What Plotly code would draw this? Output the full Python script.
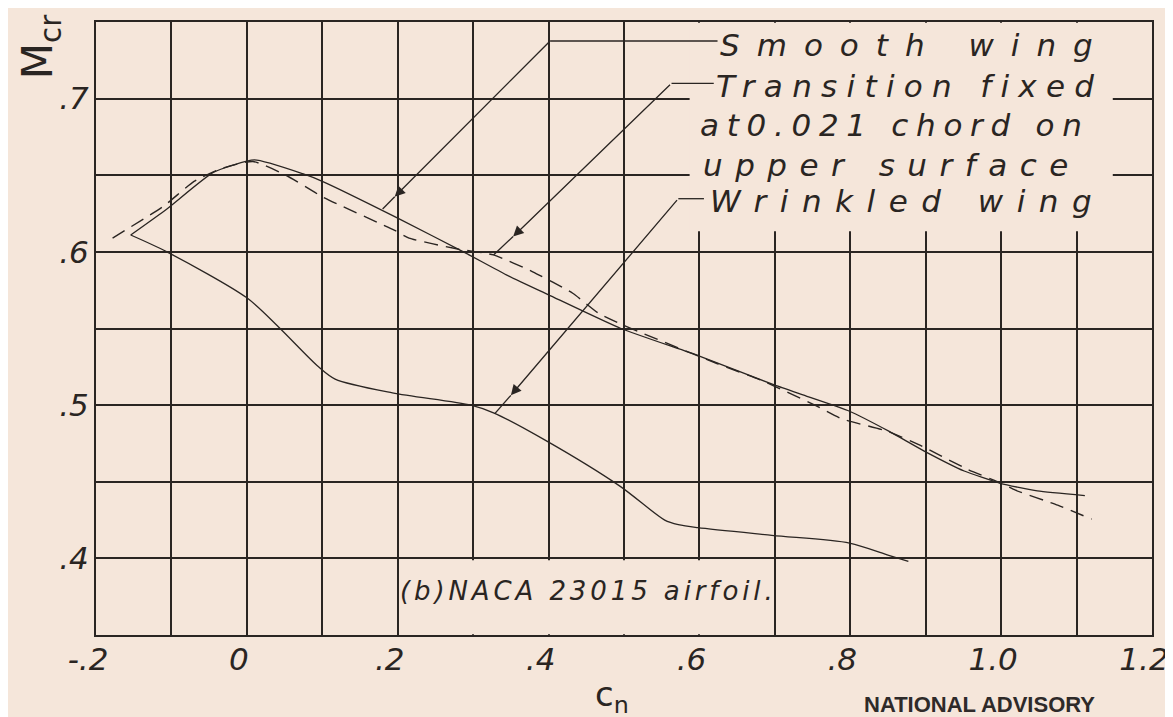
import plotly.graph_objects as go

# ---------------- data ----------------
smooth_cn = [-0.154, -0.106, -0.044, 0.010, 0.074, 0.100, 0.200, 0.291, 0.344, 0.400,
             0.496, 0.600, 0.700, 0.741, 0.799, 0.851, 0.898, 0.951, 0.999, 1.048, 1.111]
smooth_m = [0.611, 0.628, 0.652, 0.660, 0.651, 0.646, 0.622, 0.599, 0.585, 0.572,
            0.550, 0.532, 0.513, 0.506, 0.496, 0.483, 0.470, 0.457, 0.449, 0.444, 0.441]

trans_cn = [-0.178, -0.110, -0.070, -0.036, 0.008, 0.052, 0.100, 0.196, 0.215, 0.278,
            0.327, 0.379, 0.432, 0.466, 0.500, 0.624, 0.683, 0.753, 0.789, 0.849,
            0.890, 0.956, 1.000, 1.019, 1.075, 1.120]
trans_m = [0.609, 0.630, 0.646, 0.654, 0.659, 0.650, 0.636, 0.614, 0.609, 0.602,
           0.598, 0.587, 0.573, 0.560, 0.552, 0.527, 0.516, 0.500, 0.491, 0.483,
           0.4744, 0.458, 0.449, 0.4445, 0.4347, 0.4256]

wrinkled_cn = [-0.154, -0.106, 0.000, 0.042, 0.095, 0.117, 0.193, 0.297, 0.327, 0.396,
               0.495, 0.554, 0.572, 0.598, 0.696, 0.799, 0.851, 0.877]
wrinkled_m = [0.611, 0.600, 0.570, 0.551, 0.525, 0.517, 0.508, 0.500, 0.495, 0.477,
              0.447, 0.425, 0.422, 0.420, 0.415, 0.410, 0.402, 0.398]

x_tickvals = [-0.2, 0.0, 0.2, 0.4, 0.6, 0.8, 1.0, 1.2]
x_ticktext = ["-.2", "0", ".2", ".4", ".6", ".8", "1.0", "1.2"]
x_minor = [-0.1, 0.1, 0.3, 0.5, 0.7, 0.9, 1.1]
y_tickvals = [0.4, 0.5, 0.6, 0.7]
y_ticktext = [".4", ".5", ".6", ".7"]
y_minor = [0.35, 0.45, 0.55, 0.65, 0.75]

# leader lines: (corner, text-start, arrow tip, curve end) in data units
leaders = [
    dict(corner=(0.402, 0.7376), start=(0.624, 0.7376), tip=(0.196, 0.636), end=(0.180, 0.628)),
    dict(corner=(0.563, 0.7100), start=(0.619, 0.7100), tip=(0.353, 0.610), end=(0.327, 0.598)),
    dict(corner=(0.572, 0.6347), start=(0.606, 0.6347), tip=(0.350, 0.5064), end=(0.329, 0.4946)),
]
# text, x start, y centre, letter spacing (px)
label_lines = [
    ("Smooth wing", 0.624, 0.7350, 17),
    ("Transition fixed", 0.619, 0.7080, 9.3),
    ("at0.021 chord on", 0.598, 0.6830, 7.7),
    ("upper surface", 0.602, 0.6570, 12.5),
    ("Wrinkled wing", 0.611, 0.6330, 13.5),
]

# ---------------- style ----------------
PAPER = "#f5e6da"
INK = "#2a2522"
HAND = "'DejaVu Sans', sans-serif"
STAMP = "'Liberation Sans', Arial, sans-serif"

fig = go.Figure()
fig.add_trace(go.Scatter(x=smooth_cn, y=smooth_m, mode="lines",
                         line=dict(color=INK, width=1.3, shape="spline", smoothing=0.5),
                         name="Smooth wing"))
fig.add_trace(go.Scatter(x=trans_cn, y=trans_m, mode="lines",
                         line=dict(color=INK, width=1.4, dash="14px,8px", shape="spline",
                                   smoothing=0.5),
                         name="Transition fixed"))
fig.add_trace(go.Scatter(x=wrinkled_cn, y=wrinkled_m, mode="lines",
                         line=dict(color=INK, width=1.3, shape="spline", smoothing=0.8),
                         name="Wrinkled wing"))

shapes = []
# masks hiding the grid behind lettering (between grid and traces)
shapes.append(dict(type="rect", xref="x", yref="y", x0=0.587, x1=1.148, y0=0.6135, y1=0.7495,
                   fillcolor=PAPER, line=dict(width=0), layer="between"))
shapes.append(dict(type="rect", xref="x", yref="y", x0=0.203, x1=0.697, y0=0.3505, y1=0.3988,
                   fillcolor=PAPER, line=dict(width=0), layer="between"))

annotations = []
for ld in leaders:
    shapes.append(dict(type="line", xref="x", yref="y", x0=ld["corner"][0], y0=ld["corner"][1],
                       x1=ld["start"][0], y1=ld["start"][1], line=dict(color=INK, width=1.3)))
    shapes.append(dict(type="line", xref="x", yref="y", x0=ld["tip"][0], y0=ld["tip"][1],
                       x1=ld["end"][0], y1=ld["end"][1], line=dict(color=INK, width=1.3)))
    annotations.append(dict(x=ld["tip"][0], y=ld["tip"][1], ax=ld["corner"][0], ay=ld["corner"][1],
                            xref="x", yref="y", axref="x", ayref="y", text="", showarrow=True,
                            arrowhead=2, arrowsize=1.6, arrowwidth=1.3, arrowcolor=INK))

for txt, x, y, sp in label_lines:
    annotations.append(dict(x=x, y=y, xref="x", yref="y", xanchor="left", yanchor="middle",
                            text=f'<span style="letter-spacing:{sp}px">{txt}</span>',
                            showarrow=False,
                            font=dict(family=HAND, size=31, color=INK, style="italic")))

annotations.append(dict(x=0.200, y=0.3787, xref="x", yref="y", xanchor="left", yanchor="middle",
                        text='<span style="letter-spacing:3.9px">(b)NACA 23015 airfoil.</span>',
                        showarrow=False,
                        font=dict(family=HAND, size=26, color=INK, style="italic")))

annotations.append(dict(x=-0.053, y=0.959, xref="paper", yref="paper", xanchor="center",
                        yanchor="middle", textangle=-90, text="M<sub>cr</sub>", showarrow=False,
                        font=dict(family=HAND, size=42, color=INK)))
annotations.append(dict(x=0.4888, y=-0.101, xref="paper", yref="paper", xanchor="center",
                        yanchor="middle", text="c<sub>n</sub>", showarrow=False,
                        font=dict(family=HAND, size=34, color=INK)))
annotations.append(dict(x=0.8362, y=-0.1132, xref="paper", yref="paper", xanchor="center",
                        yanchor="middle", text="NATIONAL ADVISORY", showarrow=False,
                        font=dict(family=STAMP, size=22, color="#2e2a29", weight="bold")))
annotations.append(dict(x=0.8362, y=-0.147, xref="paper", yref="paper", xanchor="center",
                        yanchor="middle", text="COMMITTEE FOR AERONAUTICS", showarrow=False,
                        font=dict(family=STAMP, size=22, color="#2e2a29", weight="bold")))

tickfont = dict(family=HAND, size=31, color=INK, style="italic")
fig.update_layout(
    width=1173, height=717,
    margin=dict(l=88, r=17, t=13, b=90),
    paper_bgcolor=PAPER, plot_bgcolor=PAPER,
    showlegend=False,
    shapes=shapes, annotations=annotations,
    xaxis=dict(range=[-0.2, 1.2], tickvals=x_tickvals, ticktext=x_ticktext,
               showgrid=True, gridcolor=INK, gridwidth=1.7, zeroline=False,
               showline=True, mirror=True, linecolor=INK, linewidth=2, ticks="",
               tickfont=tickfont, ticklabelstandoff=-4, ticklabelshift=-8,
               ticklabeloverflow="allow",
               minor=dict(tickvals=x_minor, showgrid=True, gridcolor=INK, gridwidth=1.7)),
    yaxis=dict(range=[0.35, 0.75], tickvals=y_tickvals, ticktext=y_ticktext,
               showgrid=True, gridcolor=INK, gridwidth=1.7, zeroline=False,
               showline=True, mirror=True, linecolor=INK, linewidth=2, ticks="",
               tickfont=tickfont, ticklabelstandoff=-1,
               minor=dict(tickvals=y_minor, showgrid=True, gridcolor=INK, gridwidth=1.7)),
)

fig.write_html("out.html")
